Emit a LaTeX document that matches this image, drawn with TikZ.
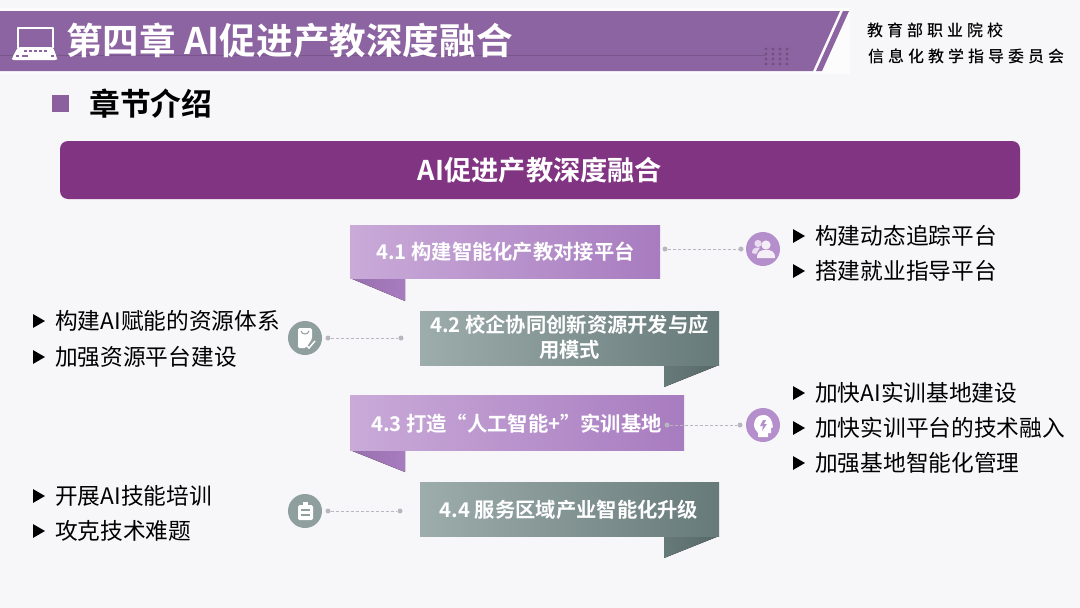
\documentclass[tikz,border=0pt]{standalone}
\usepackage{fontspec}
\setmainfont{Noto Sans CJK SC}[BoldFont={Noto Sans CJK SC Bold}]
\newfontfamily\calli{Noto Sans CJK SC Medium}[LetterSpace=25]
\usetikzlibrary{shapes.geometric}
\definecolor{pageb}{HTML}{F7F7FA}
\definecolor{headp}{HTML}{8D64A2}
\definecolor{banp}{HTML}{813481}
\definecolor{purL}{HTML}{C9AAD8}
\definecolor{purD}{HTML}{A87CC0}
\definecolor{gryL}{HTML}{9DADAB}
\definecolor{gryD}{HTML}{677A7A}
\definecolor{purC}{HTML}{B48FCB}
\definecolor{gryC}{HTML}{8E9F9D}
\definecolor{dotc}{HTML}{B8B6BE}
\tikzset{
  x=1pt,y=-1pt,
  bartext/.style={text=white,font=\bfseries\fontsize{20.3}{25}\selectfont,align=center,inner sep=0pt},
  item/.style={anchor=west,inner sep=0pt,font=\fontsize{22.7}{27}\selectfont,text=black},
  tick/.style={regular polygon,regular polygon sides=3,shape border rotate=-90,fill=black,inner sep=0pt,minimum size=16pt},
  hub/.style={circle,minimum size=34pt,inner sep=0pt},
  dotnode/.style={circle,fill=dotc,minimum size=5pt,inner sep=0pt},
  link/.style={draw=dotc,densely dashed,line width=.9pt},
  purbar/.style={left color=purL,right color=purD},
  grybar/.style={left color=gryL,right color=gryD},
}
\newcommand{\itemat}[4]{\node[tick] (t#1) at (#2,#3) {};\node[item] (i#1) at ([xshift=18pt]t#1.center) {#4};}
\begin{document}
\begin{tikzpicture}
\useasboundingbox (0,0) rectangle (1080,608);
\fill[pageb] (0,0) rectangle (1080,608);
% header
\fill[white!60!pageb] (0,8) rectangle (850,74);
\fill[headp] (0,11) -- (840,11) -- (813,71) -- (0,71) -- cycle;
\fill[headp] (843,11) -- (849,11) -- (822,71) -- (816,71) -- cycle;
\draw[headp!85!black,line width=.5pt] (0,55) -- (765,55);
\foreach \a in {766,773,780,787}{\foreach \b in {49,54,59,64}{\fill[headp!80!black] (\a,\b) circle (1.6);}}
% laptop icon
\draw[white,line width=2.4pt,line join=round] (18,48) -- (18,28) -- (53,28) -- (53,48);
\fill[white,rounded corners=2pt] (18,47) -- (53,47) -- (57,58) -- (57,60) -- (12,60) -- (12,58) -- cycle;
\foreach \a in {24,29,34,39,44}{\fill[headp] (\a,50) rectangle ++(3.4,1.6);}
\fill[headp] (16,55) rectangle ++(3,2);\fill[headp] (22,55) rectangle ++(6,2);\fill[headp] (51,55) rectangle ++(3,2);
\node[anchor=west,inner sep=0pt,text=white,font=\bfseries\fontsize{36.6}{40}\selectfont] (title) at (66,41) {第四章 AI促进产教深度融合};
\node[anchor=west,inner sep=0pt,text=black,font=\calli\fontsize{16}{20}\selectfont] (org1) at (867,30) {教育部职业院校};
\node[anchor=west,inner sep=0pt,text=black,font=\calli\fontsize{16}{20}\selectfont] (org2) at (868,56) {信息化教学指导委员会};
% section
\fill[headp!90!banp] (52,95) rectangle (69,112);
\node[anchor=west,inner sep=0pt,text=black,font=\bfseries\fontsize{30.8}{34}\selectfont] (sec) at (89,104) {章节介绍};
% banner
\fill[banp,rounded corners=8pt] (60,141) rectangle (1020,199);
\node[inner sep=0pt,text=white,font=\bfseries\fontsize{27.2}{30}\selectfont] (ban) at (540,170) {AI促进产教深度融合};
% tails
\fill[left color=purD!90!black,right color=purD] (350,278) -- (405,278) -- (405,301) -- cycle;
\fill[left color=gryD,right color=gryD!85!black] (664,365) -- (719,365) -- (664,387) -- cycle;
\fill[left color=purD!90!black,right color=purD] (350,450) -- (405,450) -- (405,472) -- cycle;
\fill[left color=gryD,right color=gryD!85!black] (664,536) -- (719,536) -- (664,558) -- cycle;
% bars
\fill[purbar] (350,225) rectangle (660,278);
\fill[grybar] (420,311) rectangle (719,365);
\fill[purbar] (350,395) rectangle (684,450);
\fill[grybar] (420,482) rectangle (719,536);
\node[bartext] (b1) at (505.5,252) {4.1 构建智能化产教对接平台};
\node[bartext] (b2) at (569.5,337) {4.2 校企协同创新资源开发与应\\用模式};
\node[bartext] (b3) at (516.5,424) {4.3 打造“人工智能+”实训基地};
\node[bartext] (b4) at (569,510) {4.4 服务区域产业智能化升级};
% hubs and connectors
\node[hub,fill=purC] (h1) at (763,249) {};
\node[hub,fill=gryC] (h2) at (305,338) {};
\node[hub,fill=purC] (h3) at (763,425) {};
\node[hub,fill=gryC] (h4) at (305,511) {};
\node[dotnode] (d1a) at (665,249) {}; \node[dotnode] (d1b) at (741,249) {};
\node[dotnode] (d2a) at (328,338) {}; \node[dotnode] (d2b) at (401,338) {};
\node[dotnode] (d3a) at (667,425) {}; \node[dotnode] (d3b) at (740,425) {};
\node[dotnode] (d4a) at (328,511) {}; \node[dotnode] (d4b) at (400,511) {};
\draw[link] (d1a) -- (d1b);
\draw[link] (d2a) -- (d2b);
\draw[link] (d3a) -- (d3b);
\draw[link] (d4a) -- (d4b);
% icon 1: people
\fill[white!85!purC] (766,245) circle (4.6);
\fill[white!85!purC] (757,258) .. controls (757,251) and (761,250) .. (766,250) .. controls (771,250) and (775,251) .. (775,258) -- cycle;
\fill[white!70!purC] (758,243.5) circle (3.6);
\fill[white!70!purC] (752,253) .. controls (752,248) and (755,247.5) .. (760,247.5) -- (756,254) -- cycle;
% icon 2: bag with tick
\fill[white,rounded corners=1.5pt] (298,328) -- (312,328) -- (312,339) -- (306,348) -- (298,348) -- cycle;
\draw[gryC,line width=1pt] (301,331) .. controls (302,335) and (308,335) .. (309,331);
\draw[white,line width=1.5pt] (306,345) -- (309,348) -- (315,341);
% icon 3: head with question
\fill[white] (763,415) .. controls (757,415) and (754,420) .. (754,425) .. controls (754,429) and (757,431) .. (758,433) -- (758,437) -- (768,437) -- (768,433) -- (771,433) -- (771,428) -- (773,427) .. controls (772,420) and (770,415) .. (763,415) -- cycle;
\fill[purC] (763,420) -- (766,420) -- (764,424) -- (767,424) -- (762,431) -- (763,426) -- (760,426) -- cycle;
% icon 4: clipboard
\fill[white,rounded corners=1.5pt] (298,505) rectangle (313,520);
\fill[white] (303,501.5) rectangle (308,505);
\draw[gryC,line width=1.2pt] (301,510) -- (310,510) (301,515) -- (310,515);
% bullet lists
\itemat{a}{797}{236}{构建动态追踪平台}
\itemat{b}{797}{271}{搭建就业指导平台}
\itemat{c}{37}{321}{构建AI赋能的资源体系}
\itemat{d}{37}{357}{加强资源平台建设}
\itemat{e}{797}{393}{加快AI实训基地建设}
\itemat{f}{797}{428}{加快实训平台的技术融入}
\itemat{g}{797}{463}{加强基地智能化管理}
\itemat{h}{37}{496}{开展AI技能培训}
\itemat{i}{37}{531}{攻克技术难题}
\end{tikzpicture}
\end{document}
